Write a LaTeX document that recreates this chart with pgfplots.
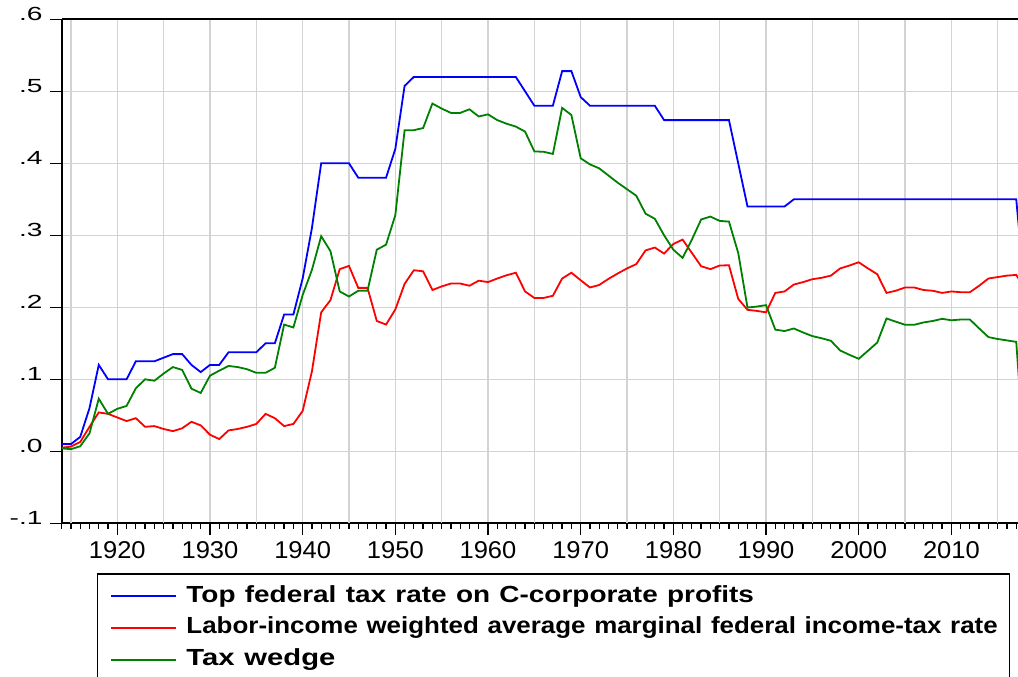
\documentclass[border=0pt]{standalone}
\usepackage{fontspec}
\setmainfont{Liberation Sans}
\newfontfamily\xlabfont[FakeStretch=1.05]{Liberation Sans}
\newfontfamily\ylabfont[FakeStretch=1.48]{Liberation Sans}
\usepackage{graphicx}
\usepackage{pgfplots}
\usepackage{pgfplotstable}
\pgfplotsset{compat=1.18}

\definecolor{gridgray}{RGB}{211,211,211}
\definecolor{ewgreen}{RGB}{0,128,0}

\newcommand{\yl}[1]{\mbox{\ylabfont\fontsize{19pt}{20pt}\selectfont #1}}
\newcommand{\xl}[1]{\mbox{\xlabfont\fontsize{24.3pt}{25pt}\selectfont #1}}

% year, top corporate rate, labor-income weighted marginal rate, tax wedge
\pgfplotstableread{
year blue red wedge
1914 0.010 0.005 0.004
1915 0.010 0.0065 0.003
1916 0.020 0.013 0.007
1917 0.060 0.034 0.025
1918 0.120 0.054 0.073
1919 0.100 0.052 0.052
1920 0.100 0.047 0.059
1921 0.100 0.042 0.063
1922 0.125 0.046 0.0875
1923 0.125 0.034 0.100
1924 0.125 0.035 0.098
1925 0.130 0.031 0.108
1926 0.135 0.028 0.117
1927 0.135 0.032 0.113
1928 0.120 0.041 0.087
1929 0.110 0.036 0.081
1930 0.120 0.023 0.105
1931 0.120 0.017 0.112
1932 0.1375 0.029 0.1185
1933 0.1375 0.031 0.117
1934 0.1375 0.034 0.114
1935 0.1375 0.038 0.109
1936 0.150 0.052 0.109
1937 0.150 0.046 0.116
1938 0.190 0.035 0.176
1939 0.190 0.038 0.172
1940 0.240 0.056 0.217
1941 0.310 0.111 0.252
1942 0.400 0.193 0.2987
1943 0.400 0.210 0.278
1944 0.400 0.253 0.222
1945 0.400 0.2575 0.215
1946 0.380 0.227 0.223
1947 0.380 0.227 0.223
1948 0.380 0.181 0.280
1949 0.380 0.176 0.287
1950 0.420 0.197 0.328
1951 0.5075 0.2325 0.446
1952 0.520 0.2515 0.446
1953 0.520 0.250 0.449
1954 0.520 0.224 0.483
1955 0.520 0.229 0.476
1956 0.520 0.233 0.470
1957 0.520 0.233 0.470
1958 0.520 0.230 0.475
1959 0.520 0.237 0.465
1960 0.520 0.235 0.468
1961 0.520 0.240 0.460
1962 0.520 0.2445 0.455
1963 0.520 0.248 0.451
1964 0.500 0.222 0.444
1965 0.480 0.213 0.4165
1966 0.480 0.213 0.416
1967 0.480 0.216 0.413
1968 0.528 0.240 0.477
1969 0.528 0.248 0.467
1970 0.492 0.2376 0.407
1971 0.480 0.2275 0.3985
1972 0.480 0.231 0.393
1973 0.480 0.2395 0.383
1974 0.480 0.247 0.373
1975 0.480 0.254 0.364
1976 0.480 0.260 0.355
1977 0.480 0.279 0.330
1978 0.480 0.283 0.323
1979 0.460 0.2746 0.300
1980 0.460 0.288 0.280
1981 0.460 0.294 0.2686
1982 0.460 0.2755 0.294
1983 0.460 0.257 0.322
1984 0.460 0.253 0.326
1985 0.460 0.258 0.320
1986 0.460 0.2584 0.319
1987 0.400 0.2117 0.2755
1988 0.340 0.1965 0.1997
1989 0.340 0.195 0.201
1990 0.340 0.193 0.203
1991 0.340 0.220 0.169
1992 0.340 0.222 0.167
1993 0.350 0.2316 0.1706
1994 0.350 0.235 0.165
1995 0.350 0.239 0.160
1996 0.350 0.241 0.157
1997 0.350 0.244 0.1535
1998 0.350 0.254 0.140
1999 0.350 0.258 0.134
2000 0.350 0.2626 0.1285
2001 0.350 0.254 0.1396
2002 0.350 0.246 0.151
2003 0.350 0.220 0.1845
2004 0.350 0.223 0.180
2005 0.350 0.2275 0.1757
2006 0.350 0.2275 0.1757
2007 0.350 0.224 0.179
2008 0.350 0.223 0.181
2009 0.350 0.220 0.184
2010 0.350 0.222 0.182
2011 0.350 0.221 0.183
2012 0.350 0.221 0.183
2013 0.350 0.230 0.1706
2014 0.350 0.240 0.1586
2015 0.350 0.242 0.156
2016 0.350 0.244 0.154
2017 0.350 0.245 0.152
2018 0.210 0.225 -0.030
}\taxdata

\begin{document}
\begin{tikzpicture}
% the page is the cropped export window of the original figure
\path[use as bounding box] (-61.7pt,-153.7pt) rectangle (956.3pt,523.3pt);
\begin{axis}[
    at={(0pt,0pt)}, anchor=south west,
    width=956.4pt, height=504pt, scale only axis,
    xmin=1914, xmax=2017.2,
    ymin=-0.1, ymax=0.6,
    axis x line*=bottom, axis y line*=left,
    axis line style={black, line width=1.8pt},
    tick align=outside,
    tick style={black, line width=1.3pt},
    major tick length=11.7pt, minor tick length=5.7pt,
    xtick={1920,1930,...,2010},
    xticklabels={\xl{1920},\xl{1930},\xl{1940},\xl{1950},\xl{1960},\xl{1970},\xl{1980},\xl{1990},\xl{2000},\xl{2010}},
    xticklabel style={yshift=-3.4pt},
    minor xtick={1914,...,2018},
    extra x ticks={1915,1925,...,2015},
    extra x tick labels={},
    extra x tick style={grid=major, major tick length=5.7pt},
    ytick={-0.1,0,0.1,0.2,0.3,0.4,0.5,0.6},
    yticklabels={\yl{-.1},\yl{.0},\yl{.1},\yl{.2},\yl{.3},\yl{.4},\yl{.5},\yl{.6}},
    yticklabel style={yshift=5pt, xshift=-4pt},
    xmajorgrids, ymajorgrids,
    grid style={gridgray, line width=1.4pt},
    legend cell align=left,
    legend image code/.code={\draw[#1] (0pt,0pt) -- (65pt,0pt);},
    legend style={
        at={(0.0366,-0.0992)}, anchor=north west,
        draw=black, line width=1.3pt,
        inner xsep=13pt, inner ysep=11.3pt,
        row sep=9.7pt, column sep=9.3pt,
        nodes={inner sep=0pt, text height=17pt, text depth=5pt, text width=810pt,
               font=\fontsize{23.3pt}{28pt}\selectfont\bfseries},
    },
    after end axis/.code={
        \draw[black, line width=1.8pt] (rel axis cs:0,1) -- (rel axis cs:1,1);
    },
]
\addplot[blue, line width=1.8pt] table[x=year, y=blue] {\taxdata};
\addlegendentry{\scalebox{1.199}[1]{Top federal tax rate on C-corporate profits}}
\addplot[red, line width=1.8pt] table[x=year, y=red] {\taxdata};
\addlegendentry{\scalebox{1.113}[1]{Labor-income weighted average marginal federal income-tax rate}}
\addplot[ewgreen, line width=1.8pt] table[x=year, y=wedge] {\taxdata};
\addlegendentry{\scalebox{1.255}[1]{Tax wedge}}
\end{axis}
\end{tikzpicture}
\end{document}
